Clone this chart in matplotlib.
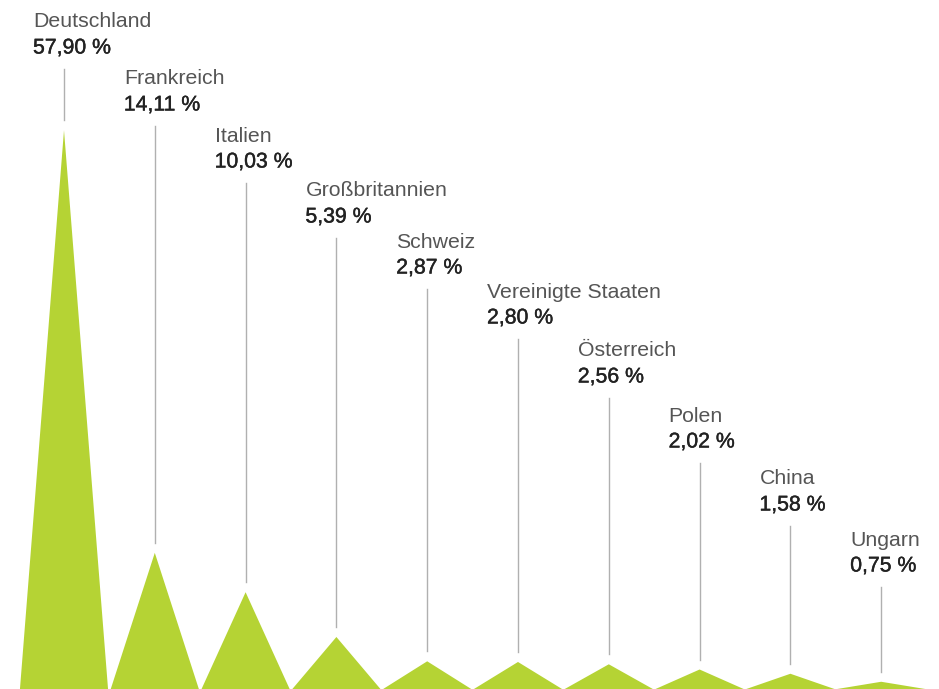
import matplotlib.pyplot as plt
import matplotlib.patheffects as pe

# Anteile nach Ländern
laender = ["Deutschland", "Frankreich", "Italien", "Großbritannien", "Schweiz",
           "Vereinigte Staaten", "Österreich", "Polen", "China", "Ungarn"]
anteile = [57.90, 14.11, 10.03, 5.39, 2.87, 2.80, 2.56, 2.02, 1.58, 0.75]

# Layout (Pixel)
W, H, DPI = 939, 689, 100
px_pro_prozent = 9.65
x0, dx = 64, 90.8
halbe_breite = 0.485
label_y = [22, 79, 136, 191, 242, 292, 351, 416, 479, 540]  # Mitte des Ländernamens, von oben

gruen = "#b5d334"
linie = "#b0b0b0"
schrift = ["Liberation Sans", "DejaVu Sans"]

fig = plt.figure(figsize=(W / DPI, H / DPI), dpi=DPI)
ax = fig.add_axes([0, 0, 1, 1])
ax.set_xlim(-x0 / dx, (W - x0) / dx)
ax.set_ylim(0, H / px_pro_prozent)
ax.axis("off")

def py(p):
    # Pixel von oben -> Datenkoordinate
    return (H - p) / px_pro_prozent

for i, (land, wert) in enumerate(zip(laender, anteile)):
    ax.fill([i - halbe_breite, i, i + halbe_breite], [0, wert, 0],
            color=gruen, lw=0)
    xt = i - 31 / dx
    ax.text(xt, py(label_y[i]), land, fontsize=15.3, color="#555555",
            family=schrift, va="center", ha="left")
    ax.text(xt, py(label_y[i] + 26), f"{wert:.2f} %".replace(".", ","),
            fontsize=15.3, color="#222222", family=schrift,
            va="center", ha="left",
            path_effects=[pe.withStroke(linewidth=0.3, foreground="#222222")])
    ax.plot([i, i], [py(label_y[i] + 47), wert + 10 / px_pro_prozent],
            color=linie, lw=1)

fig.savefig("out.png", dpi=DPI)
